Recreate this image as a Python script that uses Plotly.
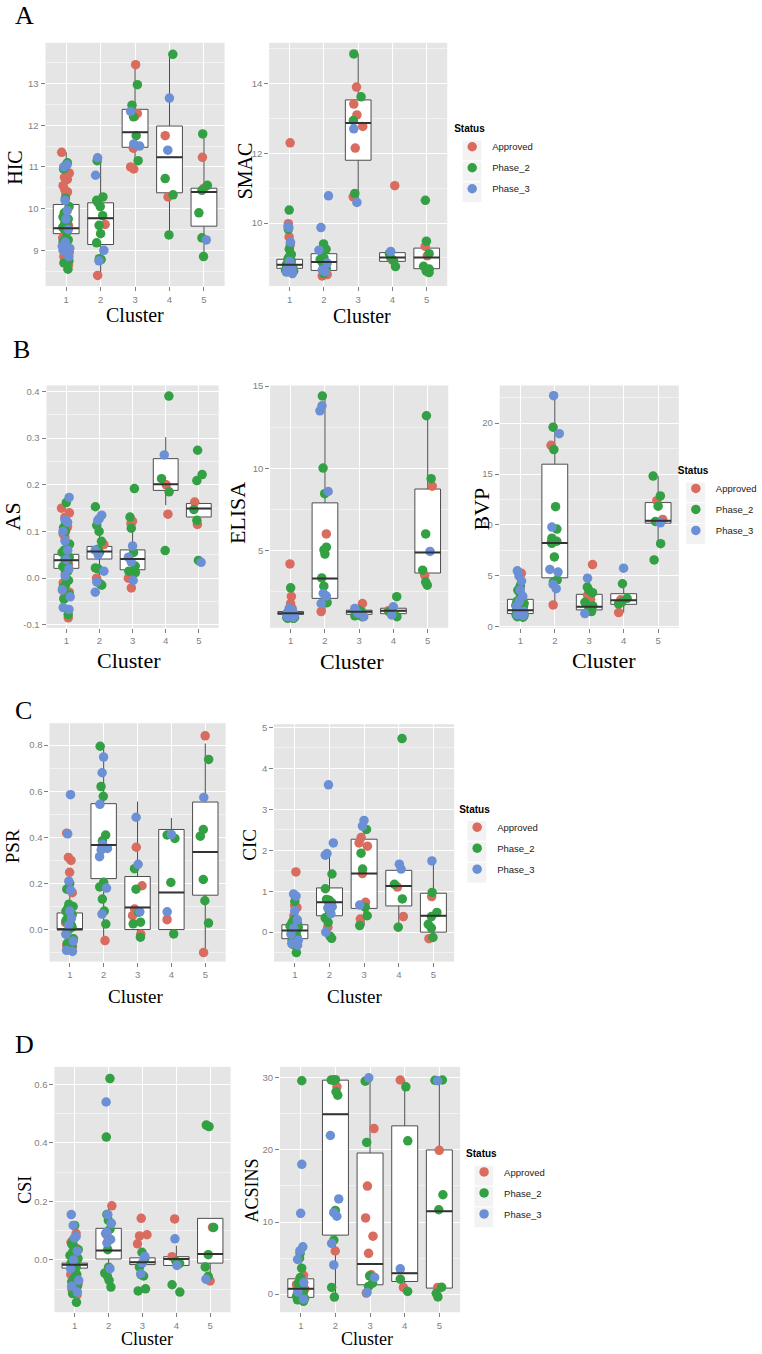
import plotly.graph_objects as go

W, H = 762, 1354

CLUSTERS = [1, 2, 3, 4, 5]
CLUSTER_LABELS = ["1", "2", "3", "4", "5"]
STATUSES = ["Approved", "Phase_2", "Phase_3"]
STATUS_COLORS = ["#D96B5F", "#33A043", "#6B90D6"]

# ---------------- HIC ----------------
HIC_APPROVED = [[11.35, 10.85, 10.75, 10.7, 10.55, 10.45, 10.4, 10.35, 9.6, 9.4, 9.3, 8.95, 8.85, 8.65],
                [9.62, 8.4], [13.45, 12.28, 12.22, 11.45, 11.0, 10.95], [11.75, 10.28], [11.23, 10.49]]
HIC_PHASE2 = [[11.1, 11.05, 11.0, 10.95, 10.25, 10.05, 9.9, 9.8, 9.75, 9.65, 9.6, 9.55, 9.5, 9.45, 9.3, 9.25, 9.2, 9.2, 8.75, 8.7, 8.55],
              [11.15, 10.28, 10.2, 10.15, 10.05, 9.83, 9.6, 9.4, 9.18, 8.8, 8.78],
              [12.97, 12.48, 12.2, 11.75, 11.15], [13.7, 10.72, 10.33, 9.37], [11.79, 10.56, 10.44, 9.9, 9.3, 8.85]]
HIC_PHASE3 = [[11.05, 11.0, 10.2, 9.95, 9.75, 9.5, 9.2, 9.1, 9.05, 9.0, 8.85],
              [11.22, 10.8, 9.0, 8.75], [12.33, 11.55, 11.5], [12.65, 11.4], [9.25]]
HIC_Q1 = [9.40, 9.14, 11.47, 10.38, 9.58]
HIC_MEDIAN = [9.53, 9.77, 11.83, 11.23, 10.40]
HIC_Q3 = [10.10, 10.14, 12.38, 11.98, 10.49]
HIC_LOW = [8.55, 8.40, 10.95, 9.37, 8.85]
HIC_HIGH = [11.35, 11.22, 13.45, 13.70, 11.79]
HIC_TICKS = [9, 10, 11, 12, 13]
HIC_TICK_LABELS = ["9", "10", "11", "12", "13"]

# ---------------- SMAC ----------------
SMAC_APPROVED = [[12.3, 9.98, 9.6, 9.38, 9.05, 8.95, 8.85, 8.8, 8.72, 8.65, 8.6],
                 [8.52, 8.48], [13.9, 13.41, 13.1, 12.77, 12.15, 10.75], [11.07, 8.94], [9.33, 9.06]]
SMAC_PHASE2 = [[10.37, 9.82, 9.25, 9.1, 9.0, 8.95, 8.9, 8.85, 8.82, 8.8, 8.78, 8.75, 8.72, 8.7, 8.68, 8.65, 8.62, 8.6, 8.58],
               [9.4, 9.25, 9.05, 9.0, 8.95, 8.85, 8.75, 8.7, 8.55],
               [14.85, 13.62, 12.94, 10.85], [9.12, 8.99, 8.92, 8.75], [10.65, 9.48, 9.12, 8.76, 8.68, 8.62, 8.58]]
SMAC_PHASE3 = [[9.9, 9.87, 9.45, 8.9, 8.8, 8.75, 8.7, 8.65, 8.6, 8.55],
               [10.78, 9.87, 9.22, 8.85, 8.65, 8.6], [12.7, 10.59], [9.18], []]
SMAC_Q1 = [8.70, 8.64, 11.80, 8.90, 8.69]
SMAC_MEDIAN = [8.80, 8.88, 12.87, 9.01, 9.01]
SMAC_Q3 = [8.96, 9.12, 13.53, 9.15, 9.28]
SMAC_LOW = [8.55, 8.48, 10.59, 8.75, 8.58]
SMAC_HIGH = [9.35, 9.40, 14.85, 9.18, 9.48]
SMAC_TICKS = [10, 12, 14]
SMAC_TICK_LABELS = ["10", "12", "14"]

# ---------------- AS ----------------
AS_APPROVED = [[0.15, 0.14, 0.13, 0.11, 0.095, 0.088, 0.068, 0.05, 0.03, 0.01, -0.01, -0.03, -0.042, -0.085],
               [0.072, 0.0], [0.122, 0.117, 0.0, -0.021], [0.2, 0.137], [0.163, 0.115]]
AS_PHASE2 = [[0.162, 0.115, 0.108, 0.1, 0.073, 0.06, 0.055, 0.045, 0.04, 0.035, 0.025, 0.02, 0.015, 0.0, -0.005, -0.015, -0.02, -0.035, -0.045, -0.078],
             [0.153, 0.113, 0.1, 0.079, 0.062, 0.055, 0.022, 0.02, -0.012, -0.015],
             [0.192, 0.131, 0.107, 0.055, 0.026, 0.015, 0.012], [0.39, 0.213, 0.185, 0.059],
             [0.274, 0.222, 0.209, 0.147, 0.124, 0.038]]
AS_PHASE3 = [[0.173, 0.125, 0.12, 0.1, 0.08, 0.06, 0.04, 0.02, 0.005, -0.025, -0.04, -0.063, -0.067],
             [0.135, 0.128, 0.124, 0.06, 0.05, 0.015, -0.008, -0.03], [0.069, 0.045, 0.035, -0.005], [0.264], [0.034]]
AS_Q1 = [0.021, 0.041, 0.018, 0.188, 0.131]
AS_MEDIAN = [0.0385, 0.057, 0.041, 0.201, 0.149]
AS_Q3 = [0.051, 0.068, 0.0605, 0.256, 0.160]
AS_LOW = [-0.024, 0.0, -0.021, 0.156, 0.115]
AS_HIGH = [0.095, 0.10, 0.121, 0.302, 0.163]
AS_TICKS = [-0.1, 0.0, 0.1, 0.2, 0.3, 0.4]
AS_TICK_LABELS = ["-0.1", "0.0", "0.1", "0.2", "0.3", "0.4"]

# ---------------- ELISA ----------------
ELISA_APPROVED = [[4.2, 2.23, 1.79, 1.5, 1.3, 1.1, 1.0, 0.95, 0.9], [6.02, 1.31], [1.79, 1.2], [1.35], [8.92, 3.51]]
ELISA_PHASE2 = [[2.75, 1.45, 1.35, 1.3, 1.25, 1.25, 1.2, 1.2, 1.15, 1.15, 1.1, 1.1, 1.05, 1.05, 1.0, 1.0, 0.95, 0.95, 0.9, 0.9],
                [14.4, 10.02, 8.47, 5.22, 5.05, 4.8, 3.35, 2.85, 2.05, 1.85],
                [1.4, 1.3, 1.25, 1.2, 1.15, 1.1, 1.05, 1.0], [2.21, 1.3, 1.0], [13.2, 9.38, 6.02, 3.82, 3.1, 2.91]]
ELISA_PHASE3 = [[1.5, 1.4, 1.3, 1.25, 1.2, 1.15, 1.1, 1.0, 0.95],
                [13.8, 13.5, 8.6, 2.41, 2.25, 1.79], [1.5, 1.2, 1.0], [1.6, 1.1], [4.96]]
ELISA_Q1 = [1.14, 2.11, 1.14, 1.18, 3.65]
ELISA_MEDIAN = [1.20, 3.31, 1.29, 1.35, 4.90]
ELISA_Q3 = [1.31, 7.91, 1.39, 1.51, 8.75]
ELISA_LOW = [0.95, 1.31, 1.0, 1.0, 2.91]
ELISA_HIGH = [1.5, 14.4, 1.79, 1.6, 13.2]
ELISA_TICKS = [5, 10, 15]
ELISA_TICK_LABELS = ["5", "10", "15"]

# ---------------- BVP ----------------
BVP_APPROVED = [[5.25, 3.9, 2.7, 2.2, 1.8, 1.5, 1.2, 1.0], [17.82, 2.15], [6.11, 3.1, 2.7], [2.65, 1.4], [12.39, 10.54]]
BVP_PHASE2 = [[4.05, 3.6, 3.4, 3.2, 3.0, 2.8, 2.6, 2.5, 2.4, 2.3, 2.2, 2.1, 2.0, 1.9, 1.8, 1.7, 1.6, 1.6, 1.5, 1.4, 1.3, 1.2, 1.1, 1.0, 0.95],
              [19.6, 17.4, 11.8, 9.6, 8.7, 8.4, 8.3, 8.2, 6.86, 4.6, 4.4],
              [3.9, 3.6, 3.35, 2.4, 2.05, 1.7, 1.5], [4.23, 2.8, 2.4, 2.25], [14.8, 12.85, 11.85, 10.34, 8.16, 6.57]]
BVP_PHASE3 = [[5.5, 5.0, 4.5, 3.6, 3.0, 2.5, 2.0, 1.5, 1.2, 1.1],
              [22.7, 18.96, 9.79, 5.63, 5.37, 4.16, 3.74], [4.78, 1.3], [5.76], [10.21]]
BVP_Q1 = [1.30, 4.81, 1.66, 2.21, 10.18]
BVP_MEDIAN = [1.63, 8.23, 1.98, 2.60, 10.41]
BVP_Q3 = [2.70, 15.97, 3.19, 3.25, 12.20]
BVP_LOW = [0.95, 2.15, 1.3, 1.4, 8.16]
BVP_HIGH = [4.5, 22.7, 4.78, 4.23, 14.8]
BVP_TICKS = [0, 5, 10, 15, 20]
BVP_TICK_LABELS = ["0", "5", "10", "15", "20"]

# ---------------- PSR ----------------
PSR_APPROVED = [[0.418, 0.313, 0.3, 0.248, 0.16, 0.07, 0.03, -0.04, -0.07, -0.075],
                [0.36, -0.048], [0.357, 0.19, 0.089, 0.06, -0.02], [0.043], [0.84, -0.1]]
PSR_PHASE2 = [[0.2, 0.18, 0.175, 0.11, 0.1, 0.09, 0.08, 0.065, 0.06, 0.05, 0.04, 0.03, 0.02, 0.015, 0.01, 0.0, -0.02, -0.04, -0.06, -0.07],
              [0.795, 0.62, 0.578, 0.41, 0.385, 0.205, 0.185, 0.132, 0.08, 0.024],
              [0.264, 0.175, 0.075, 0.032, 0.025, -0.033], [0.41, 0.395, 0.204, -0.019],
              [0.738, 0.434, 0.405, 0.217, 0.125, 0.028]]
PSR_PHASE3 = [[0.585, 0.415, 0.21, 0.17, 0.08, 0.05, 0.02, -0.02, -0.05, -0.09, -0.095],
              [0.748, 0.68, 0.543, 0.37, 0.352, 0.345, 0.316, 0.18, 0.067], [0.487, 0.283, 0.077], [0.412, 0.077], [0.573]]
PSR_Q1 = [0.0, 0.221, 0.0, 0.0, 0.149]
PSR_MEDIAN = [0.0, 0.367, 0.096, 0.161, 0.336]
PSR_Q3 = [0.072, 0.546, 0.23, 0.434, 0.553]
PSR_LOW = [-0.095, -0.048, -0.033, -0.019, -0.1]
PSR_HIGH = [0.18, 0.795, 0.555, 0.484, 0.807]
PSR_TICKS = [0.0, 0.2, 0.4, 0.6, 0.8]
PSR_TICK_LABELS = ["0.0", "0.2", "0.4", "0.6", "0.8"]

# ---------------- CIC ----------------
CIC_APPROVED = [[1.47, 0.65, 0.6, 0.4, 0.2, 0.1, -0.05, -0.15], [0.12], [2.31, 2.18, 2.1, 1.43, 0.73, 0.32], [1.1, 0.38], [0.87, -0.16]]
CIC_PHASE2 = [[0.75, 0.3, 0.25, 0.22, 0.2, 0.18, 0.15, 0.12, 0.1, 0.08, 0.05, 0.03, 0.0, -0.05, -0.1, -0.15, -0.2, -0.25, -0.3, -0.5],
              [1.42, 1.06, 0.8, 0.78, 0.72, 0.58, 0.45, 0.35, 0.24, -0.1, -0.15],
              [2.51, 1.93, 1.54, 0.61, 0.4, 0.16], [4.73, 1.17, 0.81, 0.12], [0.97, 0.48, 0.38, 0.19, 0.1, -0.13]]
CIC_PHASE3 = [[0.93, 0.88, 0.52, 0.3, 0.1, -0.05, -0.2, -0.28, -0.32],
              [3.6, 2.18, 1.92, 1.88, 0.62, 0.6, 0.45, 0.0], [2.73, 2.59, 0.66], [1.66, 1.54], [1.74]]
CIC_Q1 = [-0.16, 0.40, 0.58, 0.64, 0.0]
CIC_MEDIAN = [0.04, 0.73, 1.43, 1.13, 0.40]
CIC_Q3 = [0.18, 1.08, 2.27, 1.51, 0.95]
CIC_LOW = [-0.5, -0.15, 0.16, 0.12, -0.16]
CIC_HIGH = [0.65, 1.93, 2.73, 1.66, 1.74]
CIC_TICKS = [0, 1, 2, 3, 4, 5]
CIC_TICK_LABELS = ["0", "1", "2", "3", "4", "5"]

# ---------------- CSI ----------------
CSI_APPROVED = [[0.09, 0.06, 0.05, 0.04, 0.02, 0.0, -0.02, -0.05, -0.08, -0.1, -0.12],
                [0.185, 0.085], [0.142, 0.086, 0.082, 0.055], [0.14, 0.011], [0.111, -0.072]]
CSI_PHASE2 = [[0.118, 0.07, 0.055, 0.045, 0.035, 0.025, 0.015, 0.005, 0.0, -0.005, -0.01, -0.015, -0.025, -0.035, -0.05, -0.065, -0.075, -0.09, -0.115, -0.145],
              [0.62, 0.42, 0.155, 0.135, 0.105, 0.035, -0.025, -0.045, -0.055, -0.07, -0.093],
              [0.026, 0.005, -0.025, -0.05, -0.055, -0.099, -0.106], [-0.005, -0.012, -0.085, -0.11],
              [0.461, 0.456, 0.111, 0.018, -0.024, -0.056]]
CSI_PHASE3 = [[0.155, 0.118, 0.08, 0.075, 0.03, 0.0, -0.03, -0.07, -0.09, -0.11],
              [0.54, 0.155, 0.125, 0.095, 0.09, 0.07, 0.058, -0.03], [0.012, -0.01, -0.047], [0.072, -0.019], [-0.066]]
CSI_Q1 = [-0.028, 0.003, -0.016, -0.019, -0.011]
CSI_MEDIAN = [-0.017, 0.032, -0.008, 0.003, 0.020]
CSI_Q3 = [-0.011, 0.108, 0.007, 0.011, 0.142]
CSI_LOW = [-0.05, -0.093, -0.05, -0.019, -0.072]
CSI_HIGH = [0.01, 0.185, 0.026, 0.049, 0.142]
CSI_TICKS = [0.0, 0.2, 0.4, 0.6]
CSI_TICK_LABELS = ["0.0", "0.2", "0.4", "0.6"]

# ---------------- ACSINS ----------------
ACSINS_APPROVED = [[2.6, 2.0, 1.3, 0.7, 0.2, -0.5], [29.7, 28.75, 5.98], [22.97, 14.98, 10.57, 8.04, 5.65, 2.67, 0.14],
                   [29.7, 0.92], [19.95, 0.9]]
ACSINS_PHASE2 = [[29.6, 5.65, 4.97, 3.6, 2.3, 1.8, 1.5, 1.2, 1.0, 0.5, 0.3, 0.0, -0.3, -0.6, -0.8, -1.0],
                 [29.75, 29.7, 29.65, 28.07, 27.6, 11.6, 7.5, 0.92, -0.41],
                 [29.54, 21.04, 2.53, 1.52, 1.06], [28.76, 21.27, 2.07, 0.37], [29.7, 29.65, 13.78, 11.7, 0.95, 0.1, -0.4]]
ACSINS_PHASE3 = [[18.0, 11.2, 6.55, 6.0, 4.8, 1.6, 0.3, -0.7], [22.0, 13.2, 11.3, 10.8, 7.03, 4.05],
                 [30.0, 2.3, 0.23], [3.5], [29.6]]
ACSINS_Q1 = [-0.45, 8.18, 1.29, 1.75, 0.83]
ACSINS_MEDIAN = [0.74, 24.95, 4.18, 2.90, 11.49]
ACSINS_Q3 = [2.12, 29.68, 19.57, 23.34, 20.0]
ACSINS_LOW = [-1.0, -0.41, 0.14, 0.37, -0.55]
ACSINS_HIGH = [5.65, 29.75, 30.0, 29.7, 29.7]
ACSINS_TICKS = [0, 10, 20, 30]
ACSINS_TICK_LABELS = ["0", "10", "20", "30"]

# ------------- layout (pixel boxes of each panel) -------------
PANELS = [
    dict(name="HIC", pts=[HIC_APPROVED, HIC_PHASE2, HIC_PHASE3], q1=HIC_Q1, med=HIC_MEDIAN, q3=HIC_Q3, lo=HIC_LOW, hi=HIC_HIGH,
         ticks=HIC_TICKS, labels=HIC_TICK_LABELS, yr=[8.143, 13.976], minor=(8.5, 1), box=(46, 227, 38, 283),
         ytitle=(15, 164), xtitle=(136, 312), fs=20, legend="legend"),
    dict(name="SMAC", pts=[SMAC_APPROVED, SMAC_PHASE2, SMAC_PHASE3], q1=SMAC_Q1, med=SMAC_MEDIAN, q3=SMAC_Q3, lo=SMAC_LOW, hi=SMAC_HIGH,
         ticks=SMAC_TICKS, labels=SMAC_TICK_LABELS, yr=[8.19, 15.17], minor=(9, 2), box=(272, 452, 38, 283),
         ytitle=(247, 167), xtitle=(366, 313), fs=20, legend=None),
    dict(name="AS", pts=[AS_APPROVED, AS_PHASE2, AS_PHASE3], q1=AS_Q1, med=AS_MEDIAN, q3=AS_Q3, lo=AS_LOW, hi=AS_HIGH,
         ticks=AS_TICKS, labels=AS_TICK_LABELS, yr=[-0.1064, 0.4128], minor=(-0.05, 0.1), box=(47, 221, 383, 627),
         ytitle=(13, 515), xtitle=(130, 660), fs=22, legend="legend2"),
    dict(name="ELISA", pts=[ELISA_APPROVED, ELISA_PHASE2, ELISA_PHASE3], q1=ELISA_Q1, med=ELISA_MEDIAN, q3=ELISA_Q3, lo=ELISA_LOW, hi=ELISA_HIGH,
         ticks=ELISA_TICKS, labels=ELISA_TICK_LABELS, yr=[0.32, 15.04], minor=(2.5, 5), box=(273, 453, 383, 627),
         ytitle=(240, 511), xtitle=(356, 661), fs=22, legend=None),
    dict(name="BVP", pts=[BVP_APPROVED, BVP_PHASE2, BVP_PHASE3], q1=BVP_Q1, med=BVP_MEDIAN, q3=BVP_Q3, lo=BVP_LOW, hi=BVP_HIGH,
         ticks=BVP_TICKS, labels=BVP_TICK_LABELS, yr=[-0.1, 23.7], minor=(2.5, 5), box=(505, 686, 383, 627),
         ytitle=(487, 507), xtitle=(610, 660), fs=22, legend=None),
    dict(name="PSR", pts=[PSR_APPROVED, PSR_PHASE2, PSR_PHASE3], q1=PSR_Q1, med=PSR_MEDIAN, q3=PSR_Q3, lo=PSR_LOW, hi=PSR_HIGH,
         ticks=PSR_TICKS, labels=PSR_TICK_LABELS, yr=[-0.139, 0.895], minor=(-0.1, 0.2), box=(50, 228, 723, 963),
         ytitle=(13, 847), xtitle=(137, 998), fs=19, legend="legend3"),
    dict(name="CIC", pts=[CIC_APPROVED, CIC_PHASE2, CIC_PHASE3], q1=CIC_Q1, med=CIC_MEDIAN, q3=CIC_Q3, lo=CIC_LOW, hi=CIC_HIGH,
         ticks=CIC_TICKS, labels=CIC_TICK_LABELS, yr=[-0.72, 5.08], minor=(-0.5, 1), box=(277, 459, 724, 963),
         ytitle=(252, 845), xtitle=(359, 998), fs=19, legend=None),
    dict(name="CSI", pts=[CSI_APPROVED, CSI_PHASE2, CSI_PHASE3], q1=CSI_Q1, med=CSI_MEDIAN, q3=CSI_Q3, lo=CSI_LOW, hi=CSI_HIGH,
         ticks=CSI_TICKS, labels=CSI_TICK_LABELS, yr=[-0.179, 0.66], minor=(-0.1, 0.2), box=(55, 233, 1069, 1316),
         ytitle=(25, 1193), xtitle=(149, 1343), fs=18, legend="legend4"),
    dict(name="ACSINS", pts=[ACSINS_APPROVED, ACSINS_PHASE2, ACSINS_PHASE3], q1=ACSINS_Q1, med=ACSINS_MEDIAN, q3=ACSINS_Q3, lo=ACSINS_LOW, hi=ACSINS_HIGH,
         ticks=ACSINS_TICKS, labels=ACSINS_TICK_LABELS, yr=[-2.52, 31.52], minor=(5, 10), box=(283, 465, 1069, 1316),
         ytitle=(255, 1193), xtitle=(371, 1343), fs=18, legend=None),
]

PANEL_LETTERS = [("A", 25, 11), ("B", 22, 347), ("C", 24, 710), ("D", 25, 1046)]
# legend: name, plotly legend top-left (px), gray key column left x, key rows top y
LEGENDS = [("legend", 457, 115, 467, 136), ("legend2", 683, 459, 693, 480),
           ("legend3", 462, 800, 472, 821), ("legend4", 469, 1147, 479, 1168)]

BOX_LINE = "#4D4D4D"
TICK_GRAY = "#7F7F7F"
SANS = "Liberation Sans, Arial, sans-serif"
SERIF = "Liberation Serif, Times New Roman, serif"
BOX_WIDTH = 0.75

fig = go.Figure()
layout = dict(width=W, height=H, margin=dict(l=0, r=0, t=0, b=0), paper_bgcolor="white",
              plot_bgcolor="#E5E5E5", boxmode="overlay", showlegend=True, annotations=[], shapes=[])


def px_x(v):
    return v / W


def px_y(v):
    return 1 - v / H


for i, p in enumerate(PANELS):
    k = "" if i == 0 else str(i + 1)
    xa, ya = "x" + k, "y" + k
    x0, x1, y0, y1 = p["box"]
    layout["xaxis" + k] = dict(domain=[px_x(x0), px_x(x1)], anchor=ya, range=[0.4, 5.6],
                               tickmode="array", tickvals=CLUSTERS, ticktext=CLUSTER_LABELS,
                               ticks="outside", ticklen=4, tickwidth=1, tickcolor=TICK_GRAY,
                               tickfont=dict(family=SANS, size=9.5, color=TICK_GRAY),
                               showgrid=True, gridcolor="white", gridwidth=1.3, zeroline=False,
                               showline=False, fixedrange=True)
    layout["yaxis" + k] = dict(domain=[px_y(y1), px_y(y0)], anchor=xa, range=p["yr"],
                               tickmode="array", tickvals=p["ticks"], ticktext=p["labels"],
                               ticks="outside", ticklen=4, tickwidth=1, tickcolor=TICK_GRAY,
                               tickfont=dict(family=SANS, size=9.5, color=TICK_GRAY),
                               showgrid=True, gridcolor="white", gridwidth=1.3, zeroline=False,
                               showline=False, fixedrange=True,
                               minor=dict(tickmode="linear", tick0=p["minor"][0], dtick=p["minor"][1],
                                          showgrid=True, gridcolor="#F2F2F2", gridwidth=0.7, ticks=""))
    # box from read-off statistics
    fig.add_trace(go.Box(x=CLUSTERS, q1=p["q1"], median=p["med"], q3=p["q3"],
                         lowerfence=p["lo"], upperfence=p["hi"], boxpoints=False,
                         fillcolor="white", line=dict(color=BOX_LINE, width=1), whiskerwidth=0,
                         width=BOX_WIDTH, xaxis=xa, yaxis=ya, showlegend=False, hoverinfo="skip"))
    # thicker median bar (ggplot fatten)
    mx, my = [], []
    for c, m in zip(CLUSTERS, p["med"]):
        mx += [c - BOX_WIDTH / 2, c + BOX_WIDTH / 2, None]
        my += [m, m, None]
    fig.add_trace(go.Scatter(x=mx, y=my, mode="lines", line=dict(color="#333333", width=2),
                             xaxis=xa, yaxis=ya, showlegend=False, hoverinfo="skip"))
    # jittered points for each status
    for s, status in enumerate(STATUSES):
        xs, ys = [], []
        for c, vals in zip(CLUSTERS, p["pts"][s]):
            xs += [c] * len(vals)
            ys += vals
        fig.add_trace(go.Box(x=xs, y=ys, name=status, boxpoints="all", jitter=1, pointpos=0,
                             width=0.3, fillcolor="rgba(0,0,0,0)",
                             line=dict(width=0, color="rgba(0,0,0,0)"),
                             marker=dict(color=STATUS_COLORS[s], size=9.5, opacity=1),
                             xaxis=xa, yaxis=ya, showlegend=False, hoveron="points"))
    # legend entries (one legend per row)
    if p["legend"]:
        for s, status in enumerate(STATUSES):
            fig.add_trace(go.Scatter(x=[None], y=[None], mode="markers", name=status,
                                     marker=dict(color=STATUS_COLORS[s], size=9.5),
                                     legend=p["legend"], legendgroup=p["legend"] + status,
                                     xaxis=xa, yaxis=ya, showlegend=True))
    # axis titles
    layout["annotations"].append(dict(text="Cluster", x=px_x(p["xtitle"][0]), y=px_y(p["xtitle"][1]),
                                      xref="paper", yref="paper", showarrow=False, xanchor="center",
                                      yanchor="middle", font=dict(family=SERIF, size=p["fs"], color="black")))
    layout["annotations"].append(dict(text=p["name"], x=px_x(p["ytitle"][0]), y=px_y(p["ytitle"][1]),
                                      xref="paper", yref="paper", showarrow=False, xanchor="center",
                                      yanchor="middle", textangle=-90,
                                      font=dict(family=SERIF, size=p["fs"], color="black")))

for letter, lx, ly in PANEL_LETTERS:
    layout["annotations"].append(dict(text=letter, x=px_x(lx), y=px_y(ly), xref="paper", yref="paper",
                                      showarrow=False, xanchor="center", yanchor="middle",
                                      font=dict(family=SERIF, size=26, color="black")))

for lname, lx, ly, kx, ky in LEGENDS:
    layout[lname] = dict(x=px_x(lx), y=px_y(ly), xanchor="left", yanchor="top", bgcolor="rgba(0,0,0,0)",
                         borderwidth=0, traceorder="grouped", tracegroupgap=2,
                         title=dict(text="<b>Status</b>", font=dict(family=SANS, size=10, color="black")),
                         font=dict(family=SANS, size=9.5, color="#222222"), itemclick=False,
                         itemdoubleclick=False)
    for r in range(3):
        layout["shapes"].append(dict(type="rect", xref="paper", yref="paper",
                                     x0=px_x(kx), x1=px_x(kx + 20), y0=px_y(ky + 21 * r + 21), y1=px_y(ky + 21 * r),
                                     fillcolor="#F2F2F2", line=dict(color="white", width=1), layer="below"))

fig.update_layout(**layout)
fig.write_html("out.html", config={"displayModeBar": False},
               post_script="document.body.style.margin='0';document.body.style.overflow='hidden';")
